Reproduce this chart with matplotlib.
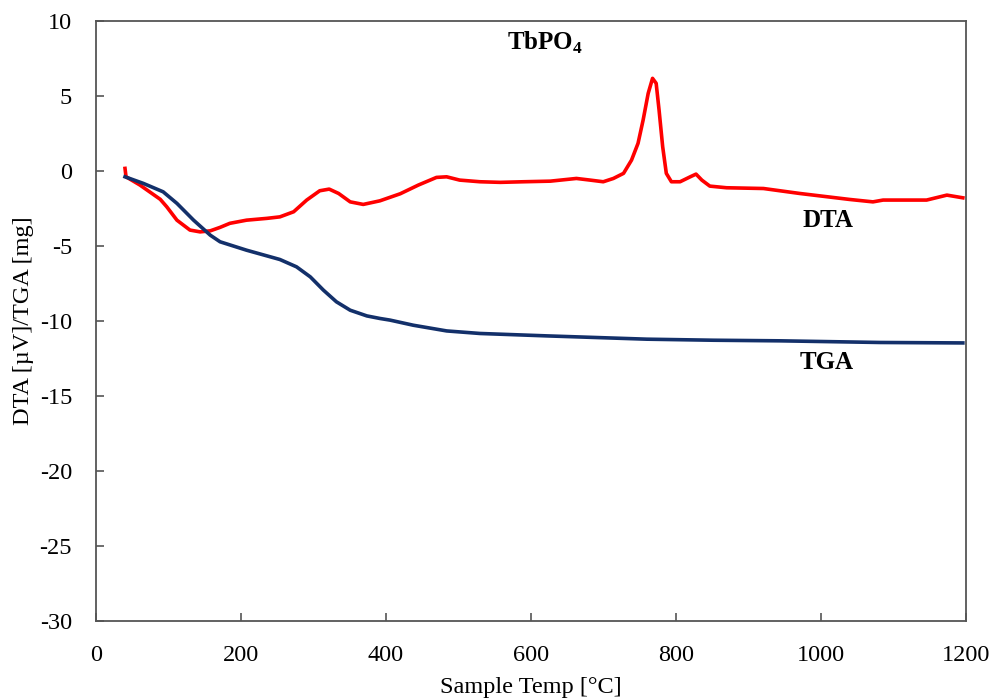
import numpy as np
import matplotlib.pyplot as plt

plt.rcParams['font.family'] = ['Liberation Serif', 'DejaVu Serif']
plt.rcParams['mathtext.fontset'] = 'custom'
plt.rcParams['mathtext.rm'] = 'Liberation Serif'
plt.rcParams['mathtext.bf'] = 'Liberation Serif:bold'
plt.rcParams['axes.unicode_minus'] = False

# =============================================================================
#               DATOS
# =============================================================================

temp_dta = [40.4, 41.8, 61, 89, 98, 112, 130, 144, 158, 171.5, 185, 208, 236,
            254, 273, 291, 309, 322, 335, 351, 369, 392, 420, 445, 470, 484,
            502, 530, 558, 590, 627, 663, 682, 700, 714, 728, 739, 748, 755,
            762, 768, 773, 777, 782, 787, 794, 806, 820, 828, 836, 847, 870,
            921, 971, 1040, 1072, 1086, 1146, 1174, 1196]
dta = [0.16, -0.4, -0.95, -1.9, -2.4, -3.29, -3.95, -4.07, -4.0, -3.77, -3.5,
       -3.29, -3.17, -3.07, -2.73, -1.95, -1.33, -1.22, -1.51, -2.07, -2.24,
       -2.0, -1.53, -0.95, -0.44, -0.4, -0.62, -0.73, -0.77, -0.73, -0.69,
       -0.51, -0.62, -0.73, -0.51, -0.17, 0.71, 1.83, 3.38, 5.16, 6.16, 5.83,
       4.05, 1.6, -0.17, -0.73, -0.73, -0.4, -0.22, -0.62, -1.02, -1.13,
       -1.18, -1.51, -1.91, -2.07, -1.95, -1.95, -1.62, -1.8]

temp_tga = [40.4, 65.7, 93, 112, 135, 158, 171.5, 208, 254, 277, 296, 314,
            332, 351, 374, 392, 406, 438, 484, 530, 622, 760, 852, 944, 1082,
            1196]
tga = [-0.4, -0.84, -1.4, -2.17, -3.29, -4.29, -4.73, -5.29, -5.91, -6.4,
       -7.07, -7.95, -8.73, -9.29, -9.67, -9.84, -9.95, -10.29, -10.67,
       -10.84, -11.0, -11.22, -11.29, -11.33, -11.44, -11.47]

# =============================================================================
#                              PLOTEO
# =============================================================================

fig = plt.figure(figsize=(9.95, 6.98), dpi=100)
ax = fig.add_axes([0.0962, 0.1103, 0.8744, 0.86])

ax.plot(temp_dta, dta, color='#ff0000', lw=2.6, solid_joinstyle='round')
ax.plot(temp_tga, tga, color='#13306a', lw=2.6, solid_joinstyle='round')

ax.set_xlim(0, 1200)
ax.set_ylim(-30, 10)
ax.set_xticks(np.arange(0, 1201, 200))
ax.set_yticks(np.arange(-30, 11, 5))
ax.tick_params(direction='in', length=6, width=1.2, color='#555555',
               labelsize=17.5)
ax.tick_params(axis='y', pad=17)
ax.tick_params(axis='x', pad=17)
for s in ax.spines.values():
    s.set_color('#555555')
    s.set_linewidth(1.3)

ax.set_xlabel('Sample Temp [°C]', fontsize=17.5, labelpad=8)
ax.set_ylabel('DTA [µV]/TGA [mg]', fontsize=17.5, labelpad=4)

ax.text(620, 8.5, r'TbPO$_\mathbf{4}$', fontsize=18, fontweight='bold',
        ha='center', va='center')
ax.text(1010, -3.3, 'DTA', fontsize=18, fontweight='bold', ha='center', va='center')
ax.text(1008, -12.8, 'TGA', fontsize=18, fontweight='bold', ha='center', va='center')

fig.savefig('out.png', dpi=100)
